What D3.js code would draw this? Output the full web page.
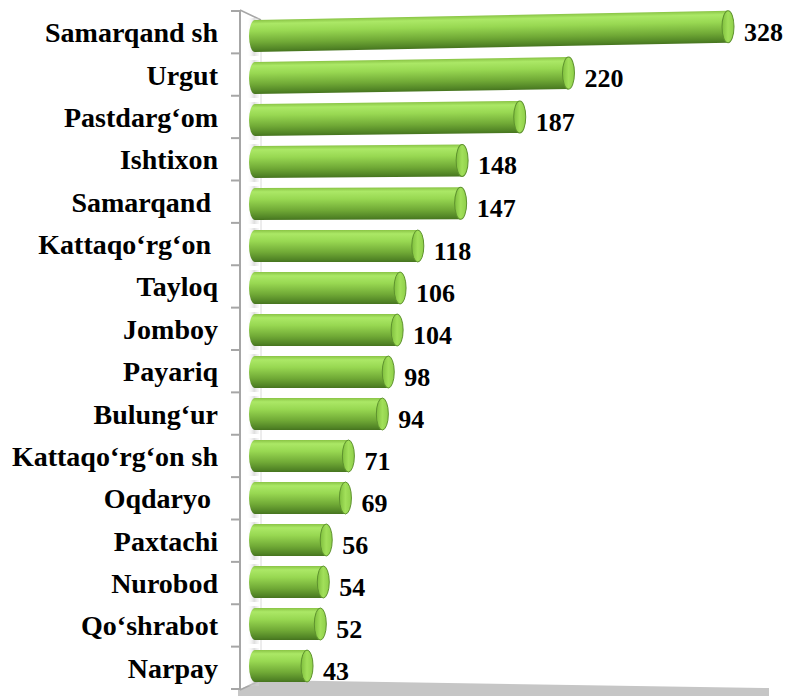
<!DOCTYPE html>
<html>
<head>
<meta charset="utf-8">
<script src="https://cdn.jsdelivr.net/npm/d3@7"></script>
<style>
  body { margin: 0; background: #fff; }
</style>
</head>
<body>
<svg width="788" height="696"></svg>
<script>
let districts = ["Samarqand sh", "Urgut", "Pastdarg‘om", "Ishtixon", "Samarqand ", "Kattaqo‘rg‘on ",
  "Tayloq", "Jomboy", "Payariq", "Bulung‘ur", "Kattaqo‘rg‘on sh", "Oqdaryo ", "Paxtachi",
  "Nurobod", "Qo‘shrabot", "Narpay"];
let counts = [328, 220, 187, 148, 147, 118, 106, 104, 98, 94, 71, 69, 56, 54, 52, 43];

let serif = "'Times New Roman', Times, 'Liberation Serif', Tinos, 'Noto Serif', 'DejaVu Serif', FreeSerif, serif";

let svg = d3.select("svg");

let xScale = d3.scaleLinear().domain([0, 350]).range([243.5, 760.5]);
let tickScale = d3.scaleBand().domain(districts).range([11, 689]);
let barScale = d3.scaleBand().domain(districts).range([15, 687]);

let barStart = 255;
let barRy = 16;
let capRx = 6;

// slight perspective tilt for the upper bars
let tilt = (y) => -0.000096 * Math.max(0, 240 - y);

let defs = svg.append("defs");

let bodyGrad = defs.append("linearGradient")
  .attr("id", "body").attr("x1", 0).attr("y1", 0).attr("x2", 0).attr("y2", 1);
[[0, "#8ac446"], [0.12, "#abe866"], [0.35, "#98d852"], [0.7, "#70a936"], [0.92, "#528526"], [1, "#46741f"]]
  .forEach((s) => bodyGrad.append("stop").attr("offset", s[0]).attr("stop-color", s[1]));

let capGrad = defs.append("linearGradient")
  .attr("id", "cap").attr("x1", 0).attr("y1", 0).attr("x2", 1).attr("y2", 0);
[[0, "#7fbf3e"], [0.5, "#a2e05a"], [1, "#8fcf4a"]]
  .forEach((s) => capGrad.append("stop").attr("offset", s[0]).attr("stop-color", s[1]));

let shadowGrad = defs.append("linearGradient")
  .attr("id", "shadow").attr("x1", 0).attr("y1", 0).attr("x2", 1).attr("y2", 0);
[[0, "#ffffff", 0], [0.6, "#c8c8c8", 0.6], [1, "#e0e0e0", 0.2]]
  .forEach((s) => shadowGrad.append("stop").attr("offset", s[0]).attr("stop-color", s[1]).attr("stop-opacity", s[2]));

let drawWalls = () => {
  // floor
  svg.append("polygon")
    .attr("points", [[238, 690], [261, 680], [769, 688], [769, 696], [238, 696]].join(" "))
    .attr("fill", "#c6c6c6");

  // back wall edge
  svg.append("line")
    .attr("x1", 261).attr("y1", 20).attr("x2", 261).attr("y2", 680)
    .attr("stroke", "#dadada").attr("stroke-width", 1);

  svg.append("path")
    .attr("d", "M240,10 L261,20 M240,690 L261,680")
    .attr("stroke", "#a6a6a6").attr("fill", "none").attr("stroke-width", 1.5);

  // category axis
  svg.append("line")
    .attr("x1", 240).attr("y1", 10).attr("x2", 240).attr("y2", 690)
    .attr("stroke", "#a6a6a6").attr("stroke-width", 2);

  let ticks = districts.map((d) => tickScale(d)).concat([tickScale.range()[1]]);
  svg.append("g").selectAll("line").data(ticks).enter().append("line")
    .attr("x1", 231).attr("x2", 240)
    .attr("y1", (d) => d).attr("y2", (d) => d)
    .attr("stroke", "#a6a6a6").attr("stroke-width", 2);
};

let drawLabels = () => {
  svg.append("g").selectAll("text").data(districts).enter().append("text")
    .attr("x", 218)
    .attr("y", (d) => tickScale(d) + tickScale.bandwidth() / 2 + 10)
    .attr("text-anchor", "end")
    .attr("font-family", serif)
    .attr("font-weight", "bold")
    .attr("font-size", 28)
    .attr("xml:space", "preserve")
    .style("white-space", "pre")
    .text((d) => d);
};

let drawBars = () => {
  let bars = svg.append("g").selectAll("g").data(districts).enter().append("g")
    .attr("transform", (d) => {
      let cy = barScale(d) + barScale.bandwidth() / 2;
      return "translate(" + barStart + "," + cy + ") skewY(" + (Math.atan(tilt(cy)) * 180 / Math.PI) + ")";
    });

  bars.append("rect")
    .attr("x", -8).attr("y", -barRy - 2).attr("width", 12).attr("height", barRy * 2 + 6)
    .attr("fill", "url(#shadow)");

  bars.append("ellipse")
    .attr("cx", 0).attr("cy", 0).attr("rx", capRx).attr("ry", barRy)
    .attr("fill", "url(#body)");

  bars.append("rect")
    .attr("x", 0).attr("y", -barRy)
    .attr("width", (d, i) => xScale(counts[i]) - barStart)
    .attr("height", barRy * 2)
    .attr("fill", "url(#body)");

  bars.append("ellipse")
    .attr("cx", (d, i) => xScale(counts[i]) - barStart).attr("cy", 0)
    .attr("rx", capRx).attr("ry", barRy)
    .attr("fill", "url(#cap)")
    .attr("stroke", "#5e922e").attr("stroke-width", 1);
};

let drawValues = () => {
  svg.append("g").selectAll("text").data(counts).enter().append("text")
    .attr("x", (d) => xScale(d) + capRx + 10)
    .attr("y", (d, i) => {
      let cy = barScale(districts[i]) + barScale.bandwidth() / 2;
      return cy + tilt(cy) * (xScale(d) - barStart) + 14;
    })
    .attr("font-family", serif)
    .attr("font-weight", "bold")
    .attr("font-size", 26)
    .text((d) => d);
};

drawWalls();
drawLabels();
drawBars();
drawValues();
</script>
</body>
</html>
